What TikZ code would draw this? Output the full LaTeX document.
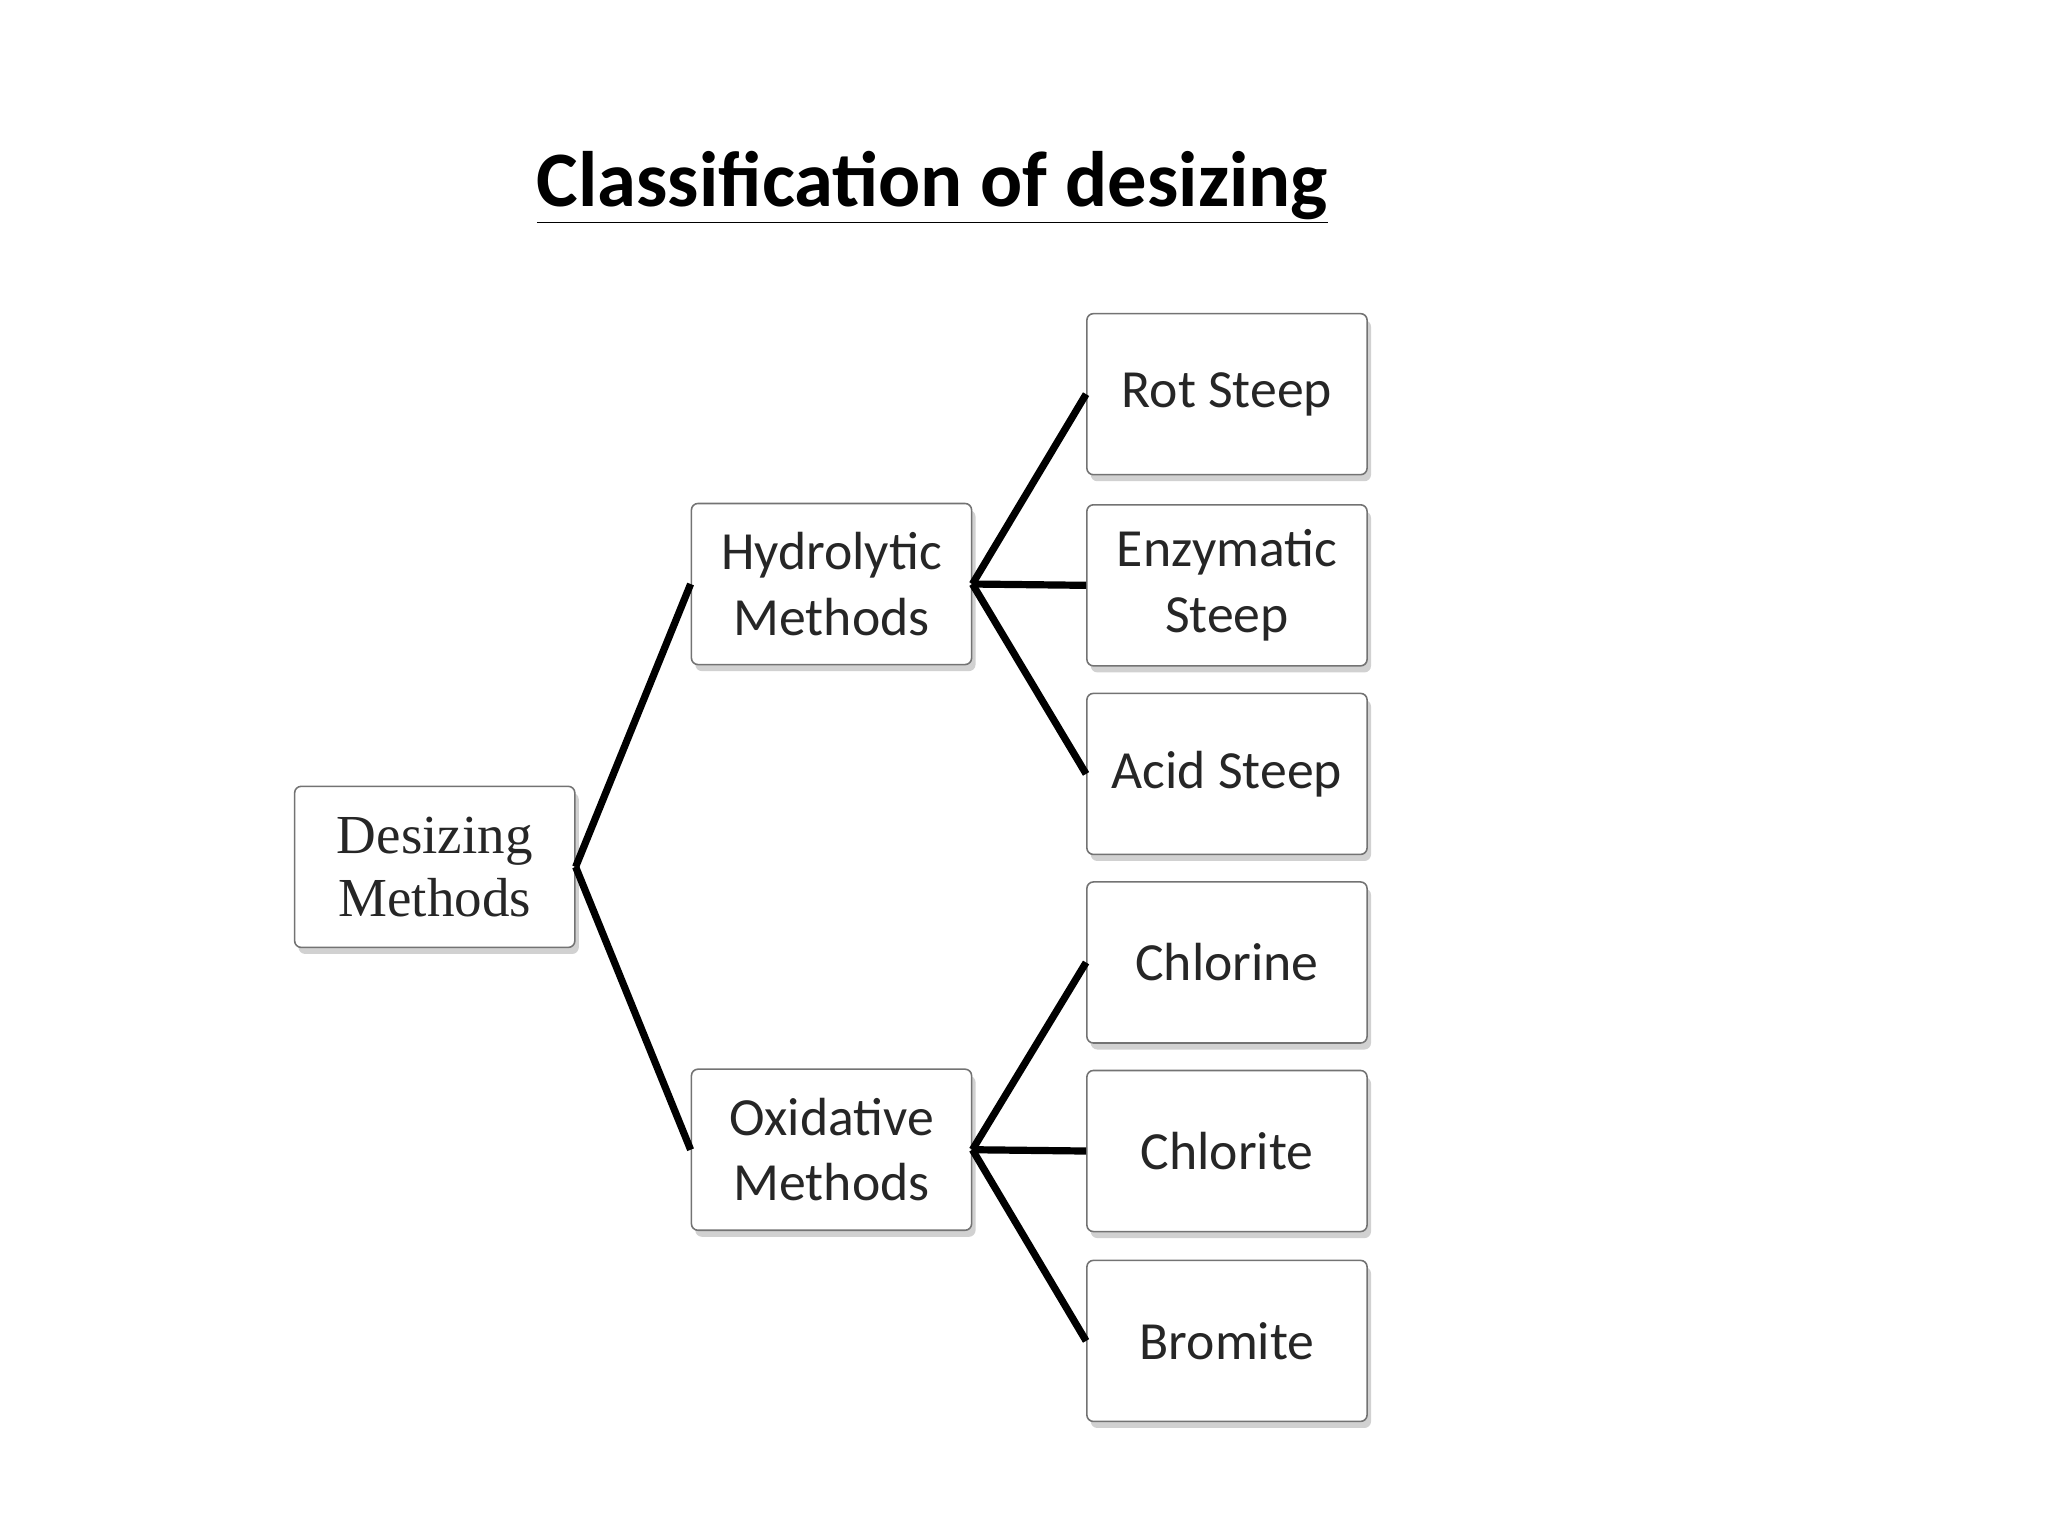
\documentclass[tikz,border=0pt]{standalone}
\usepackage{fontspec}
\setmainfont{Carlito}
\newfontfamily\serifb{Liberation Serif}
\usetikzlibrary{shadows}
\begin{document}
\begin{tikzpicture}[x=1pt,y=-1pt,
  box/.style={draw=black!55,line width=1.2pt,fill=white,rounded corners=5pt,minimum width=214pt,minimum height=123pt,align=center,font=\fontsize{41}{50}\selectfont,text=black!85,
  drop shadow={shadow xshift=3pt,shadow yshift=-5pt,fill=black!30,opacity=0.6}},
  link/.style={line width=5.5pt,black}]
\useasboundingbox (0,0) rectangle (1564,1173);
\node[font=\bfseries\fontsize{60}{70}\selectfont] (t) at (712,143) {\underline{Classification of desizing}};
\node[box,font=\serifb\fontsize{42}{48}\selectfont] (d) at (332,662) {Desizing\\Methods};
\node[box] (h) at (635,446) {Hydrolytic\\Methods};
\node[box] (o) at (635,878) {Oxidative\\Methods};
\node[box] (r) at (937,301) {Rot Steep};
\node[box] (e) at (937,447) {Enzymatic\\Steep};
\node[box] (a) at (937,591) {Acid Steep};
\node[box] (c1) at (937,735) {Chlorine};
\node[box] (c2) at (937,879) {Chlorite};
\node[box] (b) at (937,1024) {Bromite};
\draw[link] (d.east) -- (h.west);
\draw[link] (d.east) -- (o.west);
\foreach \n in {r,e,a} \draw[link] (h.east) -- (\n.west);
\foreach \n in {c1,c2,b} \draw[link] (o.east) -- (\n.west);
\end{tikzpicture}
\end{document}
